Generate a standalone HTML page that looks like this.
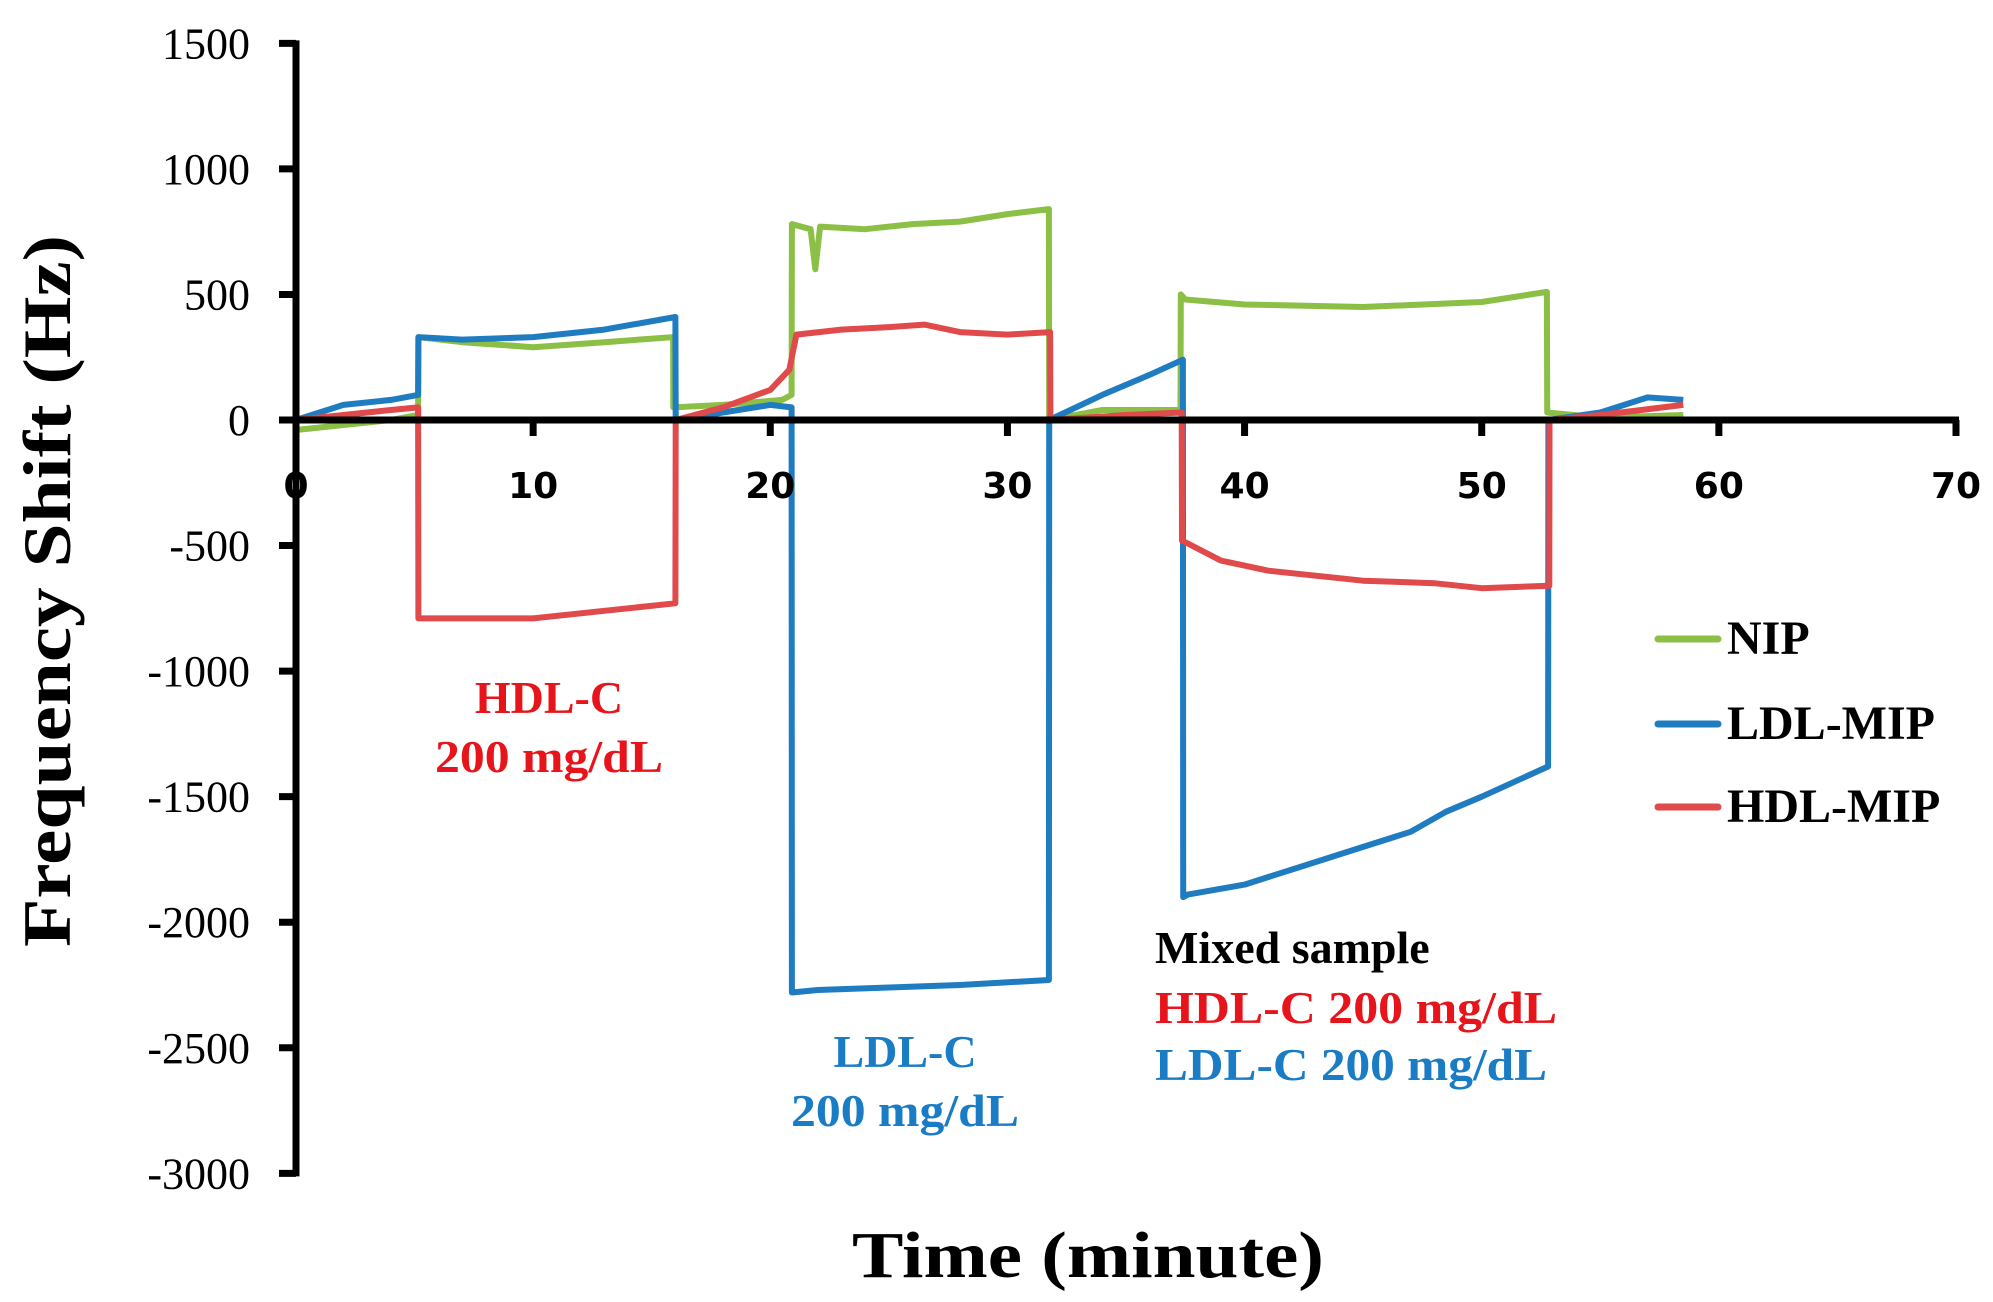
<!DOCTYPE html>
<html><head><meta charset="utf-8">
<style>
html,body{margin:0;padding:0;background:#fff;}
svg{display:block;}
</style></head>
<body>
<svg id="chart" width="1993" height="1302" viewBox="0 0 1993 1302" xmlns="http://www.w3.org/2000/svg">
<g id="series"></g>
<g id="axes"></g>
<text transform="translate(70,591) rotate(-90)" text-anchor="middle" font-family="Liberation Serif, serif" font-weight="bold" font-size="68" textLength="712" lengthAdjust="spacingAndGlyphs">Frequency Shift (Hz)</text>
<text x="1088" y="1277" text-anchor="middle" font-family="Liberation Serif, serif" font-weight="bold" font-size="66" textLength="472" lengthAdjust="spacingAndGlyphs">Time (minute)</text>
<g font-family="Liberation Serif, serif" font-weight="bold" font-size="48">
<line x1="1658" y1="639" x2="1718" y2="639" stroke="#8cbf45" stroke-width="7" stroke-linecap="round"/>
<text x="1727" y="654">NIP</text>
<line x1="1658" y1="724" x2="1718" y2="724" stroke="#1f7cc1" stroke-width="7" stroke-linecap="round"/>
<text x="1727" y="739">LDL-MIP</text>
<line x1="1658" y1="807" x2="1718" y2="807" stroke="#e04a4a" stroke-width="7" stroke-linecap="round"/>
<text x="1727" y="822">HDL-MIP</text>
</g>
<g font-family="Liberation Serif, serif" font-weight="bold" font-size="46">
<text x="549" y="713" text-anchor="middle" fill="#e8141b">HDL-C</text>
<text x="549" y="772" text-anchor="middle" fill="#e8141b" textLength="228" lengthAdjust="spacingAndGlyphs">200 mg/dL</text>
<text x="905" y="1067" text-anchor="middle" fill="#1a7cc4">LDL-C</text>
<text x="905" y="1126" text-anchor="middle" fill="#1a7cc4" textLength="228" lengthAdjust="spacingAndGlyphs">200 mg/dL</text>
<text x="1155" y="963" fill="#000">Mixed sample</text>
<text x="1155" y="1023" fill="#e8141b" textLength="402" lengthAdjust="spacingAndGlyphs">HDL-C 200 mg/dL</text>
<text x="1155" y="1080" fill="#1a7cc4" textLength="392" lengthAdjust="spacingAndGlyphs">LDL-C 200 mg/dL</text>
</g>
</svg>
<script>
const nipT = [0,2,4,5.15,5.16,7,10,13,15.9,15.91,18,20.5,20.9,20.91,21.7,21.9,22.1,24,26,28,30,31.75,31.76,34,37.3,37.31,37.5,40,45,50,52.75,52.76,55,58.5];
const nipV = [-40,-20,0,20,330,310,290,310,330,50,60,80,100,780,760,600,770,760,780,790,820,840,0,40,40,500,480,460,450,470,510,30,10,20];
const ldlT = [0,2,4,5.15,5.16,7,10,13,16,16.01,18,20,20.9,20.91,22,25,28,31.75,31.76,34,36,37.4,37.41,37.6,40,43,45,47,48.5,50,52.8,52.81,55,57,58.5];
const ldlV = [0,60,80,100,330,320,330,360,410,0,30,60,50,-2280,-2270,-2260,-2250,-2230,0,100,180,240,-1900,-1890,-1850,-1760,-1700,-1640,-1560,-1500,-1380,0,30,90,80];
const hdlT = [0,2,4,5.15,5.16,7,10,13,16,16.01,18,20,20.8,21.1,23,25,26.5,28,30,31.8,31.81,35,37.35,37.36,39,41,45,48,50,52.85,52.86,55,58.5];
const hdlV = [0,20,40,50,-790,-790,-790,-760,-730,0,50,120,200,340,360,370,380,350,340,350,0,20,30,-480,-560,-600,-640,-650,-670,-660,0,20,60];
const yTicks = [1500,1000,500,0,-500,-1000,-1500,-2000,-2500,-3000];
const xTicks = [0,10,20,30,40,50,60,70];

const X0 = 296, XPX = (1956-296)/70;
const Y0 = 420, YPX = (1175-45)/4500;
function xs(t){ return X0 + t*XPX; }
function ys(v){ return Y0 - v*YPX; }
const NS = 'http://www.w3.org/2000/svg';
const sg = document.getElementById('series');
const ag = document.getElementById('axes');

function drawSeries(T, V, color, name){
  const p = document.createElementNS(NS,'polyline');
  p.setAttribute('points', T.map((t,i)=>xs(t).toFixed(1)+','+ys(V[i]).toFixed(1)).join(' '));
  p.setAttribute('fill','none');
  p.setAttribute('stroke',color);
  p.setAttribute('stroke-width','6');
  p.setAttribute('stroke-linejoin','round');
  
  
  sg.appendChild(p);
}
drawSeries(nipT, nipV, '#8cbf45', 'series-nip');
drawSeries(ldlT, ldlV, '#1f7cc1', 'series-ldl-mip');
drawSeries(hdlT, hdlV, '#e04a4a', 'series-hdl-mip');

const ya = document.createElementNS(NS,'line');
ya.setAttribute('x1',X0); ya.setAttribute('x2',X0);
ya.setAttribute('y1',ys(1500)-3); ya.setAttribute('y2',ys(-3000)+3);
ya.setAttribute('stroke','#000'); ya.setAttribute('stroke-width','7');


ag.appendChild(ya);
yTicks.forEach(v=>{
  const l = document.createElementNS(NS,'line');
  l.setAttribute('x1',X0-17); l.setAttribute('x2',X0);
  l.setAttribute('y1',ys(v)); l.setAttribute('y2',ys(v));
  l.setAttribute('stroke','#000'); l.setAttribute('stroke-width','7');
  
  
  ag.appendChild(l);
  const t = document.createElementNS(NS,'text');
  t.setAttribute('x',250); t.setAttribute('y',ys(v)+15);
  t.setAttribute('text-anchor','end');
  t.setAttribute('font-family','Liberation Serif, serif');
  t.setAttribute('font-size','44');
  t.textContent = v;
  
  
  ag.appendChild(t);
});
const xa = document.createElementNS(NS,'line');
xa.setAttribute('x1',X0); xa.setAttribute('x2',xs(70)+3);
xa.setAttribute('y1',Y0); xa.setAttribute('y2',Y0);
xa.setAttribute('stroke','#000'); xa.setAttribute('stroke-width','7');


ag.appendChild(xa);
xTicks.forEach(v=>{
  const l = document.createElementNS(NS,'line');
  l.setAttribute('x1',xs(v)); l.setAttribute('x2',xs(v));
  l.setAttribute('y1',Y0); l.setAttribute('y2',Y0+16);
  l.setAttribute('stroke','#000'); l.setAttribute('stroke-width','7');
  
  
  ag.appendChild(l);
  const t = document.createElementNS(NS,'text');
  t.setAttribute('x',xs(v)); t.setAttribute('y',498);
  t.setAttribute('text-anchor','middle');
  t.setAttribute('font-family','DejaVu Sans, Liberation Sans, sans-serif');
  t.setAttribute('font-weight','bold');
  t.setAttribute('font-size','36');
  t.textContent = v;
  
  
  ag.appendChild(t);
});
</script>
</body></html>
